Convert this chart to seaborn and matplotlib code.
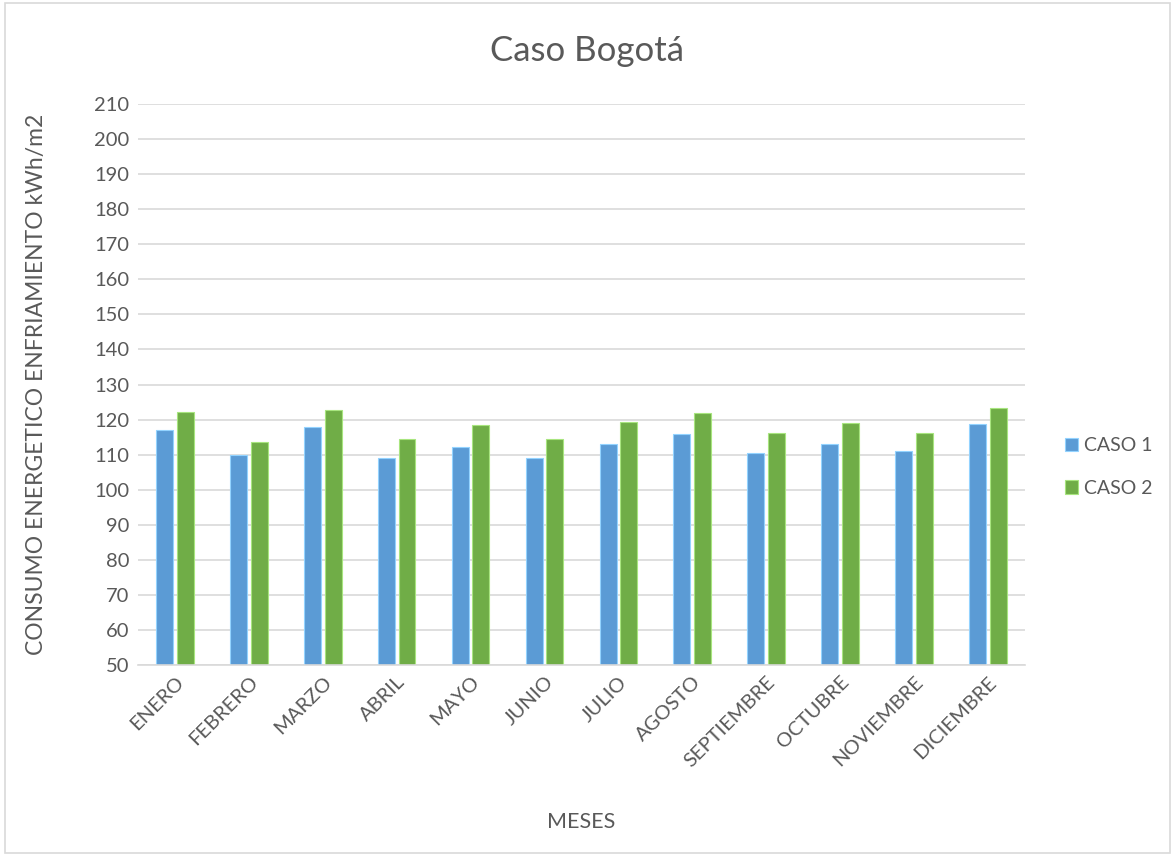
import matplotlib
matplotlib.use("Agg")
import matplotlib.pyplot as plt
import seaborn as sns
import pandas as pd
from matplotlib.patches import Rectangle

meses = ["ENERO", "FEBRERO", "MARZO", "ABRIL", "MAYO", "JUNIO", "JULIO",
         "AGOSTO", "SEPTIEMBRE", "OCTUBRE", "NOVIEMBRE", "DICIEMBRE"]
caso1 = [117.1, 109.8, 117.8, 109.0, 112.2, 109.0, 113.1, 116.0, 110.6, 113.0, 111.0, 118.7]
caso2 = [122.1, 113.6, 122.7, 114.6, 118.5, 114.6, 119.3, 121.8, 116.2, 118.9, 116.2, 123.3]
series_names = ["CASO 1", "CASO 2"]
yticks = list(range(50, 211, 10))

df = pd.DataFrame({
    "mes": meses * 2,
    "valor": caso1 + caso2,
    "serie": [series_names[0]] * len(meses) + [series_names[1]] * len(meses),
})

sns.set_theme(style="white")
plt.rcParams["font.family"] = ["Lato", "DejaVu Sans"]
text_color = "#595959"

fig = plt.figure(figsize=(11.75, 8.56), dpi=100)
ax = fig.add_axes([0.1174, 0.2231, 0.7549, 0.6554])

sns.barplot(data=df, x="mes", y="valor", hue="serie", order=meses,
            hue_order=series_names, palette=["#5B9BD5", "#70AD47"],
            saturation=1, width=0.56, gap=0.18, linewidth=0.8,
            ax=ax, errorbar=None, legend=True)
for bar in ax.patches:
    fc = bar.get_facecolor()
    bar.set_edgecolor([min(1, c + 0.22) for c in fc[:3]])

ax.set_ylim(50, 210)
ax.set_yticks(yticks)
ax.set_xlim(-0.5, len(meses) - 0.5)
ax.yaxis.grid(True, color="#D9D9D9", linewidth=1.2)
ax.set_axisbelow(True)
for s in ["top", "right", "left"]:
    ax.spines[s].set_visible(False)
ax.spines["bottom"].set_color("#D9D9D9")
ax.spines["bottom"].set_linewidth(1.2)

ax.tick_params(axis="y", labelsize=14.5, colors=text_color, length=0, pad=6)
ax.tick_params(axis="x", labelsize=14.5, colors=text_color, length=0, pad=6)
for lbl in ax.get_xticklabels():
    lbl.set_rotation(45)
    lbl.set_ha("right")
    lbl.set_rotation_mode("anchor")

ax.set_xlabel("MESES", fontsize=15.5, color=text_color, labelpad=30)
ax.set_ylabel("CONSUMO ENERGETICO ENFRIAMIENTO kWh/m2", fontsize=16.5,
              color=text_color, labelpad=34)
fig.text(0.5, 0.940, "Caso Bogotá", ha="center", va="center",
         fontsize=25, color=text_color)

handles, labels = ax.get_legend_handles_labels()
ax.legend(handles, labels, loc="center left", bbox_to_anchor=(1.045, 0.353),
          frameon=False, fontsize=14, labelcolor=text_color,
          handlelength=0.7, handleheight=0.7, handletextpad=0.3,
          labelspacing=1.3, borderaxespad=0, borderpad=0)

fig.patches.append(Rectangle((0.004, 0.004), 0.992, 0.992, transform=fig.transFigure,
                             fill=False, edgecolor="#D9D9D9", linewidth=1.2))

fig.savefig("out.png", dpi=100)
